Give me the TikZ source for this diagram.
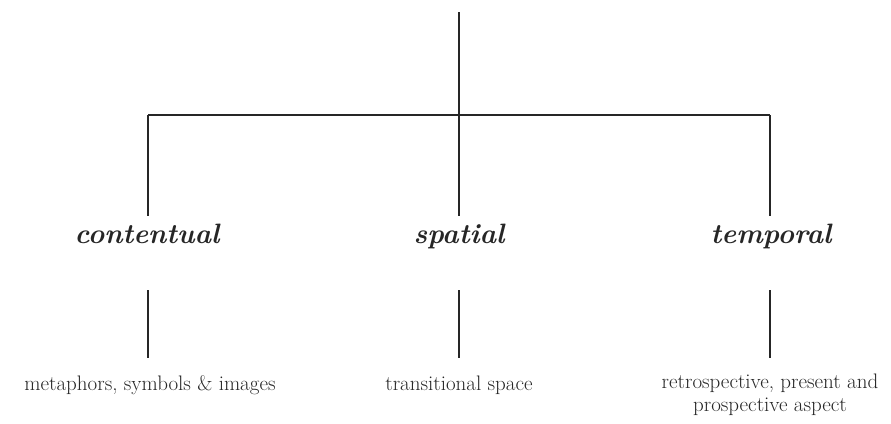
\documentclass[tikz,border=0pt]{standalone}
\usepackage{tikz}
\begin{document}
\begin{tikzpicture}[x=1pt,y=-1pt,
  conn/.style={line width=1.8pt,black!85},
  cat/.style={font=\fontsize{28}{28}\selectfont\bfseries\itshape,inner sep=0pt,anchor=base,text=black!85},
  leaf/.style={font=\fontsize{21}{23}\selectfont,align=center,inner sep=0pt,anchor=base,text=black!85}]
\useasboundingbox (0,0) rectangle (891,423);
\coordinate (top) at (459,12);
\coordinate (hub) at (459,115);
\coordinate (hl) at (148,115);
\coordinate (hr) at (770,115);
\node[cat] (c1) at (147,243) {contentual};
\node[cat] (c2) at (459,243) {spatial};
\node[cat] (c3) at (771,243) {temporal};
\coordinate (c1b) at (148,290);
\coordinate (c2b) at (459,290);
\coordinate (c3b) at (770,290);
\node[leaf] (l1) at (150,390) {metaphors, symbols \& images};
\node[leaf] (l2) at (459,390) {transitional space};
\node[leaf,anchor=north] (l3) at (770,374) {retrospective, present and\\prospective aspect};
\draw[conn] (top) -- (hub);
\draw[conn] (hl) -- (hr);
\draw[conn] (hl) -- (148,216);
\draw[conn] (hub) -- (459,216);
\draw[conn] (hr) -- (770,216);
\draw[conn] (c1b) -- (148,358);
\draw[conn] (c2b) -- (459,358);
\draw[conn] (c3b) -- (770,358);
\end{tikzpicture}
\end{document}
